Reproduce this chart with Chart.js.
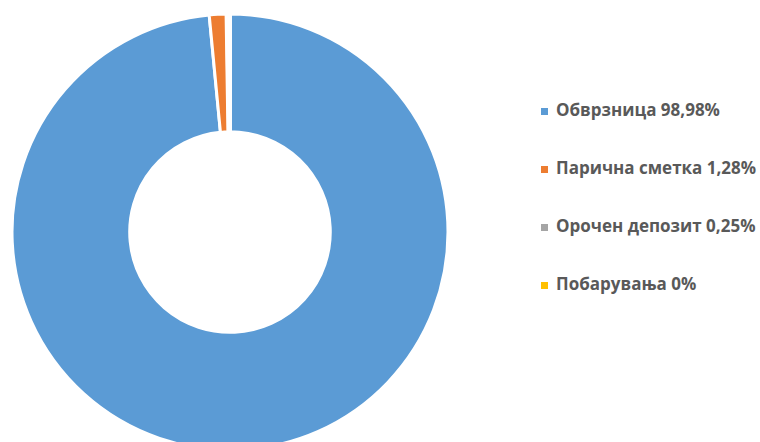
<!DOCTYPE html>
<html>
<head>
<meta charset="utf-8">
<script src="https://cdn.jsdelivr.net/npm/chart.js@4/dist/chart.umd.min.js"></script>
<style>
  body { margin: 0; background: #fff; overflow: hidden; }
  #wrap { position: relative; width: 760px; height: 442px; overflow: hidden; }
  #pie { position: absolute; left: 10px; top: 12px; width: 440px; height: 440px; }
  #legend { position: absolute; left: 541px; top: 98px; font-family: "Open Sans", sans-serif; font-weight: bold; font-size: 17px; color: #595959; }
  .item { height: 58px; display: flex; align-items: flex-start; white-space: nowrap; }
  .box { width: 7px; height: 7px; margin-right: 8px; margin-top: 10px; }
</style>
</head>
<body>
<div id="wrap">
  <div id="pie"><canvas id="c"></canvas></div>
  <div id="legend"></div>
</div>
<script>
const labels = ['Обврзница', 'Парична сметка', 'Орочен депозит', 'Побарувања'];
const shares = [98.98, 1.28, 0.25, 0];
const shareText = ['98,98%', '1,28%', '0,25%', '0%'];
const colors = ['#5B9BD5', '#ED7D31', '#A5A5A5', '#FFC000'];

new Chart(document.getElementById('c'), {
  type: 'doughnut',
  data: {
    labels: labels,
    datasets: [{
      data: shares,
      backgroundColor: colors,
      borderColor: '#ffffff',
      borderWidth: [3, 3, 4, 3]
    }]
  },
  options: {
    responsive: true,
    maintainAspectRatio: false,
    animation: false,
    cutout: '46%',
    layout: { padding: 0 },
    plugins: {
      legend: { display: false },
      tooltip: { enabled: false }
    }
  }
});

// legend built from the same arrays
const legend = document.getElementById('legend');
labels.forEach((l, i) => {
  const row = document.createElement('div');
  row.className = 'item';
  row.innerHTML = '<span class="box" style="background:' + colors[i] + '"></span>' + l + ' ' + shareText[i];
  legend.appendChild(row);
});
</script>
</body>
</html>
